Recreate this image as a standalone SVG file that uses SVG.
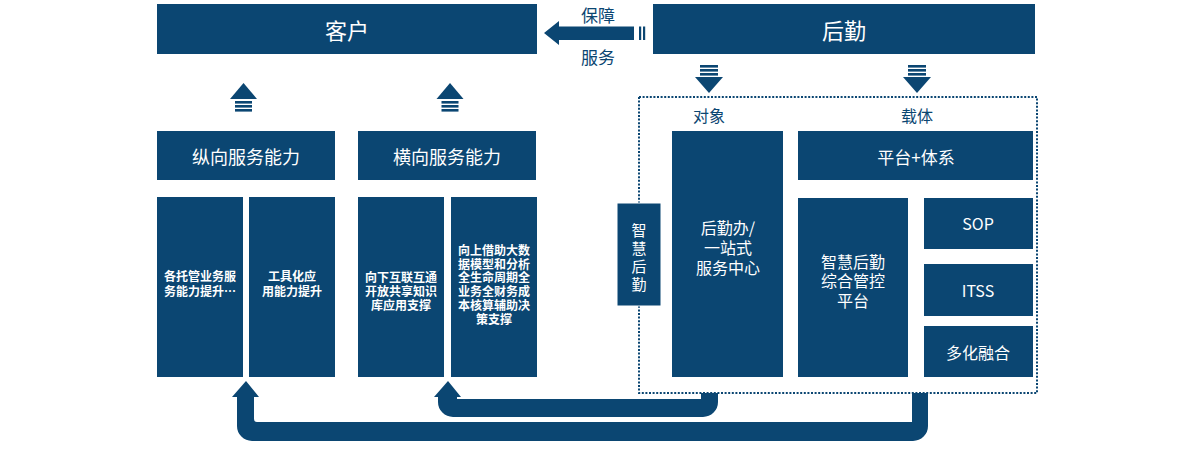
<svg xmlns="http://www.w3.org/2000/svg" width="1200" height="456" viewBox="0 0 1200 456">
<style>
.box{fill:#0b4672}
.blue{fill:#0b4672}
.t{font-family:"Noto Sans CJK SC","Noto Sans",sans-serif;fill:#ffffff;text-anchor:middle;dominant-baseline:central}
.lb{font-family:"Noto Sans CJK SC","Noto Sans",sans-serif;fill:#0b4672;text-anchor:middle;dominant-baseline:central}
.s{font-size:12px;font-weight:bold}
.m{font-size:16px}
</style>
<defs>
<g id="upArrow">
<polygon points="0,-16 13.5,0 -13.5,0"/>
<rect x="-8.5" y="2" width="17" height="2.6"/>
<rect x="-8.5" y="6" width="17" height="2.6"/>
<rect x="-8.5" y="10" width="17" height="2.6"/>
</g>
<g id="downArrow">
<rect x="-9" y="0" width="18" height="2.6"/>
<rect x="-9" y="4" width="18" height="2.6"/>
<rect x="-9" y="8" width="18" height="2.6"/>
<polygon points="-14,12 14,12 0,28"/>
</g>
</defs>

<g id="customer">
<rect class="box" x="157" y="4" width="380" height="50"/>
<text class="t" x="347" y="29" font-size="22">客户</text>
</g>

<g id="logistics">
<rect class="box" x="653" y="4" width="382" height="50"/>
<text class="t" x="844" y="29" font-size="22">后勤</text>
</g>

<g id="guarantee-arrow">
<polygon class="blue" points="544,33 559,21 559,26.5 634,26.5 634,40 559,40 559,45"/>
<rect class="blue" x="639" y="26.5" width="2.2" height="13.5"/>
<rect class="blue" x="643" y="26.5" width="2.2" height="13.5"/>
<text class="lb" x="598" y="14" font-size="17">保障</text>
<text class="lb" x="598" y="56" font-size="17">服务</text>
</g>

<g id="vertical-ability">
<rect class="box" x="157" y="131" width="178" height="49"/>
<text class="t" x="246" y="156" font-size="18">纵向服务能力</text>
</g>
<g id="horizontal-ability">
<rect class="box" x="358" y="131" width="178" height="49"/>
<text class="t" x="447" y="156" font-size="18">横向服务能力</text>
</g>

<g id="sub1">
<rect class="box" x="157" y="197" width="86" height="180"/>
<text class="t s" x="200" y="275">各托管业务服</text>
<text class="t s" x="200" y="290">务能力提升…</text>
</g>
<g id="sub2">
<rect class="box" x="249" y="197" width="86" height="180"/>
<text class="t s" x="292" y="275">工具化应</text>
<text class="t s" x="292" y="290">用能力提升</text>
</g>
<g id="sub3">
<rect class="box" x="358" y="197" width="86" height="180"/>
<text class="t s" x="401" y="276">向下互联互通</text>
<text class="t s" x="401" y="290">开放共享知识</text>
<text class="t s" x="401" y="304">库应用支撑</text>
</g>
<g id="sub4">
<rect class="box" x="451" y="197" width="86" height="180"/>
<text class="t s" x="494" y="249">向上借助大数</text>
<text class="t s" x="494" y="263">据模型和分析</text>
<text class="t s" x="494" y="276">全生命周期全</text>
<text class="t s" x="494" y="290">业务全财务成</text>
<text class="t s" x="494" y="304">本核算辅助决</text>
<text class="t s" x="494" y="318">策支撑</text>
</g>

<g id="frame">
<rect x="639" y="97" width="398" height="296" fill="none" stroke="#0b4672" stroke-width="2" stroke-dasharray="2 1.6"/>
<text class="lb" x="709" y="115" font-size="16">对象</text>
<text class="lb" x="917" y="115" font-size="16">载体</text>
</g>

<g id="smart-logistics">
<rect class="box" x="617" y="203" width="44" height="103" stroke="#ffffff" stroke-width="1"/>
<text class="t" x="639" y="229" font-size="15">智</text>
<text class="t" x="639" y="247" font-size="15">慧</text>
<text class="t" x="639" y="265" font-size="15">后</text>
<text class="t" x="639" y="283" font-size="15">勤</text>
</g>

<g id="service-center">
<rect class="box" x="672" y="131" width="111" height="246"/>
<text class="t m" x="728" y="227">后勤办/</text>
<text class="t m" x="728" y="247">一站式</text>
<text class="t m" x="728" y="267">服务中心</text>
</g>

<g id="platform-system">
<rect class="box" x="798" y="131" width="235" height="49"/>
<text class="t" x="916" y="156" font-size="17">平台+体系</text>
</g>

<g id="control-platform">
<rect class="box" x="798" y="198" width="110" height="179"/>
<text class="t m" x="853" y="261">智慧后勤</text>
<text class="t m" x="853" y="280">综合管控</text>
<text class="t m" x="853" y="300">平台</text>
</g>

<g id="sop">
<rect class="box" x="924" y="198" width="109" height="51"/>
<text class="t m" x="978" y="223">SOP</text>
</g>
<g id="itss">
<rect class="box" x="924" y="264" width="109" height="52"/>
<text class="t m" x="978" y="290">ITSS</text>
</g>
<g id="fusion">
<rect class="box" x="924" y="326" width="109" height="51"/>
<text class="t m" x="978" y="352">多化融合</text>
</g>

<g id="connectors" class="blue">
<use href="#upArrow" x="243.5" y="99"/>
<use href="#upArrow" x="450" y="99"/>
<use href="#downArrow" x="709" y="65"/>
<use href="#downArrow" x="917" y="65"/>
<path d="M246,381 L259,397 L254,397 L254,419 Q254,422 257,422 L912,422 L912,393 L928,393 L928,426 A15,15 0 0 1 913,441 L252,441 A15,15 0 0 1 237,426 L237,397 L232,397 Z"/>
<path d="M448,381 L461,397 L457,397 L457,399 L701,399 L701,393 L718,393 L718,402 A15,15 0 0 1 703,417 L453,417 A15,15 0 0 1 438,402 L438,397 L434,397 Z"/>
</g>
</svg>
